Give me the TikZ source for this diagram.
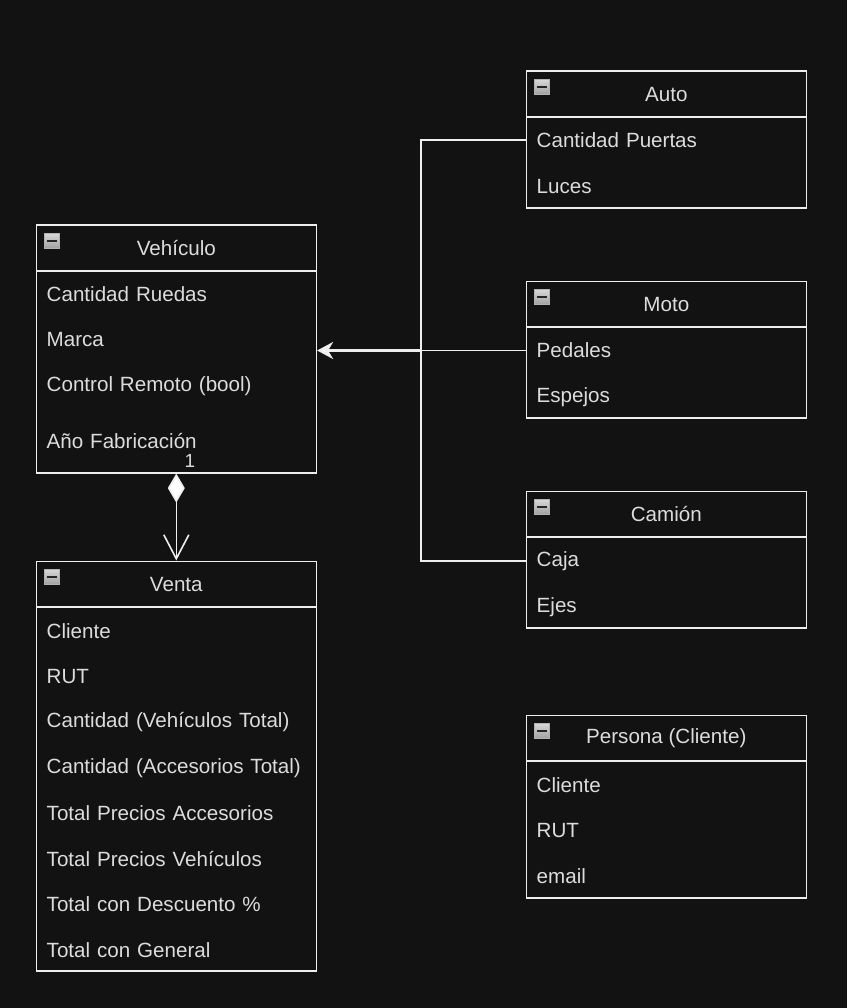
\documentclass[tikz,border=0pt]{standalone}
\usepackage{fontspec}
\setmainfont{Liberation Sans}
\usetikzlibrary{arrows.meta}
\definecolor{bg}{HTML}{121212}
\definecolor{fg}{HTML}{DCDCDC}
\definecolor{ln}{HTML}{EEEEEE}
\begin{document}
\begin{tikzpicture}[x=1pt,y=-1pt,font=\fontsize{20.6}{24}\selectfont,
  box/.style={draw=ln,line width=1.6,fill=bg,minimum width=280,anchor=north west,inner sep=0,text=fg},
  hdr/.style={box,minimum height=45.5},
  row/.style={anchor=west,text width=258,align=left,inner xsep=11,inner ysep=0,text=fg},
  icn/.style={minimum size=15,inner sep=0,draw=gray!60,line width=0.8,top color=gray!30,bottom color=gray!75},
  conn/.style={draw=ln,line width=1.6}]
\fill[bg] (0,0) rectangle (847,1008);
\useasboundingbox (0,0) rectangle (847,1008);

% Vehiculo
\node[box,minimum height=202] (vehb) at (35.5,270) {};
\node[hdr] (veh) at (35.5,224.5) {Vehículo};
\node[row] (vehr1) at (35.5,294) {Cantidad Ruedas};
\node[row] (vehr2) at (35.5,340) {Marca};
\node[row] (vehr3) at (35.5,386) {Control Remoto (bool)};
\node[row] (vehr4) at (35.5,441) {Año Fabricación};
\node[icn] (vehi) at (52,241) {};
\draw[black!85,line width=2] ([xshift=-5]vehi.center) -- ([xshift=5]vehi.center);

% Venta
\node[box,minimum height=364] (venb) at (35.5,606) {};
\node[hdr] (ven) at (35.5,560.5) {Venta};
\node[row] (venr1) at (35.5,631) {Cliente};
\node[row] (venr2) at (35.5,677) {RUT};
\node[row] (venr3) at (35.5,722) {Cantidad (Vehículos Total)};
\node[row] (venr4) at (35.5,768) {Cantidad (Accesorios Total)};
\node[row] (venr5) at (35.5,813) {Total Precios Accesorios};
\node[row] (venr6) at (35.5,859) {Total Precios Vehículos};
\node[row] (venr7) at (35.5,904) {Total con Descuento \%};
\node[row] (venr8) at (35.5,950) {Total con General};
\node[icn] (veni) at (52,577) {};
\draw[black!85,line width=2] ([xshift=-5]veni.center) -- ([xshift=5]veni.center);

% Auto
\node[box,minimum height=91] (autob) at (525.5,116) {};
\node[hdr] (auto) at (525.5,70.5) {Auto};
\node[row] (autor1) at (525.5,140) {Cantidad Puertas};
\node[row] (autor2) at (525.5,187) {Luces};
\node[icn] (autoi) at (542,87) {};
\draw[black!85,line width=2] ([xshift=-5]autoi.center) -- ([xshift=5]autoi.center);

% Moto
\node[box,minimum height=91] (motob) at (525.5,326) {};
\node[hdr] (moto) at (525.5,280.5) {Moto};
\node[row] (motor1) at (525.5,350.5) {Pedales};
\node[row] (motor2) at (525.5,397) {Espejos};
\node[icn] (motoi) at (542,297) {};
\draw[black!85,line width=2] ([xshift=-5]motoi.center) -- ([xshift=5]motoi.center);

% Camion
\node[box,minimum height=91] (camb) at (525.5,536) {};
\node[hdr] (cam) at (525.5,490.5) {Camión};
\node[row] (camr1) at (525.5,561) {Caja};
\node[row] (camr2) at (525.5,607) {Ejes};
\node[icn] (cami) at (542,507) {};
\draw[black!85,line width=2] ([xshift=-5]cami.center) -- ([xshift=5]cami.center);

% Persona
\node[box,minimum height=137] (perb) at (525.5,760) {};
\node[hdr] (per) at (525.5,714.5) {Persona (Cliente)};
\node[row] (perr1) at (525.5,785) {Cliente};
\node[row] (perr2) at (525.5,831) {RUT};
\node[row] (perr3) at (525.5,876) {email};
\node[icn] (peri) at (542,731) {};
\draw[black!85,line width=2] ([xshift=-5]peri.center) -- ([xshift=5]peri.center);

% Inheritance connectors
\coordinate (jn) at (421,350.5);
\draw[conn] (autor1.west) -| (jn);
\draw[conn] (camr1.west) -| (jn);
\draw[conn] (motor1.west) -- (jn);
\draw[conn,line width=2.6,-{Stealth[length=16,width=17,inset=5,fill=white]}] (jn) -- (motor1.west -| vehb.east);

% Composition
\draw[conn,{Diamond[length=29,width=17,fill=white]}-{Straight Barb[length=24,width=25,line width=1.6]}] (vehb.south) -- (ven.north);
\node[text=fg,anchor=center,inner sep=0,font=\fontsize{19}{22}\selectfont] (one) at (190,461) {1};
\end{tikzpicture}
\end{document}
